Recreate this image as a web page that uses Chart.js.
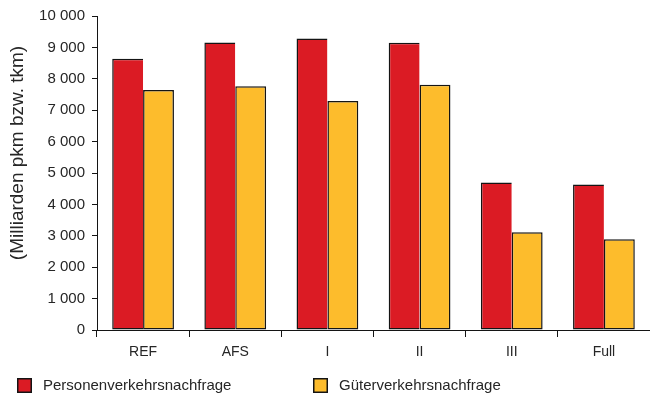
<!DOCTYPE html>
<html lang="de">
<head>
<meta charset="utf-8">
<title>Verkehrsnachfrage nach Szenario</title>
<script src="https://cdn.jsdelivr.net/npm/chart.js@4.4.1/dist/chart.umd.min.js"></script>
<style>
  html, body { margin: 0; padding: 0; background: #fff; }
  #wrap { width: 650px; height: 398px; }
</style>
</head>
<body>
<div id="wrap"><canvas id="chart" width="650" height="398"></canvas></div>
<script>
// Szenarien und Nachfrage (Milliarden pkm bzw. tkm)
const categories = ['REF', 'AFS', 'I', 'II', 'III', 'Full'];
const personenverkehr = [8640, 9160, 9280, 9150, 4700, 4630];
const gueterverkehr = [7640, 7760, 7290, 7810, 3110, 2890];
const seriesNames = ['Personenverkehrsnachfrage', 'Güterverkehrsnachfrage'];
const yTickLabels = ['0', '1 000', '2 000', '3 000', '4 000', '5 000',
                     '6 000', '7 000', '8 000', '9 000', '10 000'];
const yAxisCaption = '(Milliarden pkm bzw. tkm)';

const FONT = '"Liberation Sans", Arial, Helvetica, sans-serif';
const TEXT = '#262626';
const RED = '#DB1B24';
const YELLOW = '#FDBC2C';
const EDGE = '#141414';

// Rotated caption left of the value axis, set a little above the axis centre.
const axisCaption = {
  id: 'axisCaption',
  afterDraw(chart) {
    const {ctx, chartArea} = chart;
    ctx.save();
    ctx.translate(18, chartArea.top + 137);
    ctx.rotate(-Math.PI / 2);
    ctx.font = '19px ' + FONT;
    ctx.fillStyle = TEXT;
    ctx.textAlign = 'center';
    ctx.textBaseline = 'middle';
    ctx.fillText(yAxisCaption, 0, 0);
    ctx.restore();
  }
};

// Two-entry legend along the bottom edge, built from the datasets.
const wideLegend = {
  id: 'wideLegend',
  afterDraw(chart) {
    const {ctx} = chart;
    const slots = [17, 313];
    const top = 378;
    const size = 15;
    ctx.save();
    ctx.font = '15px ' + FONT;
    ctx.textAlign = 'left';
    ctx.textBaseline = 'middle';
    chart.data.datasets.forEach((ds, i) => {
      const x = slots[i];
      ctx.fillStyle = ds.backgroundColor;
      ctx.fillRect(x, top, size, size);
      ctx.lineWidth = 1.5;
      ctx.strokeStyle = ds.borderColor;
      ctx.strokeRect(x + 0.75, top + 0.75, size - 1.5, size - 1.5);
      ctx.fillStyle = TEXT;
      ctx.fillText(ds.label, x + 26, top + size / 2);
    });
    ctx.restore();
  }
};

new Chart(document.getElementById('chart'), {
  type: 'bar',
  data: {
    labels: categories,
    datasets: [
      {
        label: seriesNames[0],
        data: personenverkehr,
        backgroundColor: RED,
        borderColor: EDGE,
        // the neighbouring bar's left edge forms the shared divider
        borderWidth: { top: 1.5, left: 1.5, bottom: 1.5, right: 0 },
        borderSkipped: false
      },
      {
        label: seriesNames[1],
        data: gueterverkehr,
        backgroundColor: YELLOW,
        borderColor: EDGE,
        borderWidth: 1.5,
        borderSkipped: false
      }
    ]
  },
  plugins: [axisCaption, wideLegend],
  options: {
    responsive: false,
    animation: false,
    devicePixelRatio: 1,
    datasets: { bar: { categoryPercentage: 0.67, barPercentage: 1.0 } },
    layout: { padding: { left: 0, top: 16, right: 0, bottom: 0 } },
    plugins: {
      tooltip: { enabled: false },
      legend: { display: false }
    },
    scales: {
      x: {
        grid: {
          offset: true,
          drawOnChartArea: false,
          drawTicks: true,
          tickLength: 7,
          color: EDGE,
          lineWidth: 1
        },
        border: { display: true, color: EDGE, width: 1 },
        ticks: {
          padding: 7,
          color: TEXT,
          font: { family: FONT, size: 14 }
        },
        afterFit: (scale) => { scale.height = 68; }
      },
      y: {
        min: 0,
        max: 10000,
        grid: {
          drawOnChartArea: false,
          drawTicks: true,
          tickLength: 5,
          color: EDGE,
          lineWidth: 1
        },
        border: { display: true, color: EDGE, width: 1 },
        ticks: {
          stepSize: 1000,
          padding: 7,
          color: TEXT,
          font: { family: FONT, size: 15 },
          callback: (value, index) => yTickLabels[index]
        },
        afterFit: (scale) => { scale.width = 97; }
      }
    }
  }
});
</script>
</body>
</html>
